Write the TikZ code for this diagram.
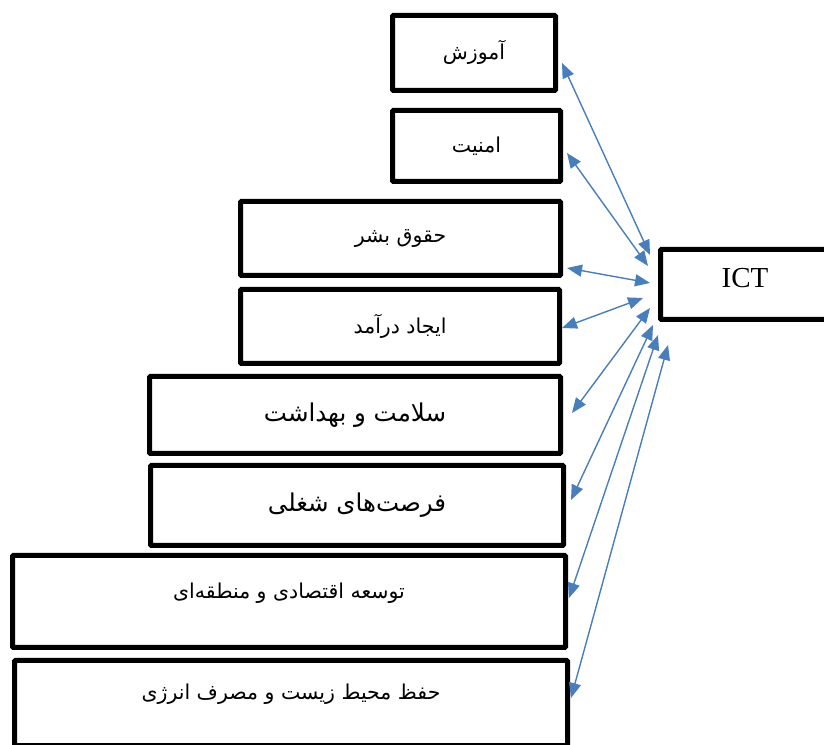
\documentclass[tikz,border=0pt]{standalone}
\usepackage{fontspec}
\setmainfont{Liberation Serif}
\newfontfamily\farsi[Script=Arabic]{DejaVu Sans}
\TeXXeTstate=1
\usetikzlibrary{arrows.meta}
\definecolor{linkblue}{RGB}{74,126,187}

\begin{document}
\begin{tikzpicture}[x=1pt,y=1pt]
\tikzstyle{box}=[rectangle,draw=black,line width=5pt,rounded corners=1pt,inner sep=0pt,font=\farsi\fontsize{20.5}{24}\selectfont]
\tikzstyle{bigbox}=[box,font=\farsi\fontsize{24.5}{28}\selectfont]
\tikzstyle{link}=[linkblue,line width=1.4pt,{Triangle[length=15pt,width=12pt]}-{Triangle[length=15pt,width=12pt]}]

\useasboundingbox (0,0) rectangle (824,744);

\begin{scope}
    % Fields
    \node [box,minimum width=163pt,minimum height=75pt,text depth=6pt](amoozesh) at (474,691){\beginR آموزش\endR};
    \node [box,minimum width=168pt,minimum height=71pt](amniat) at (476.5,598){\beginR امنیت\endR};
    \node [box,minimum width=320pt,minimum height=74pt](hoghoogh) at (400.5,505.5){\beginR حقوق بشر\endR};
    \node [box,minimum width=319pt,minimum height=74pt](daramad) at (400,417.5){\beginR ایجاد درآمد\endR};
    \node [bigbox,minimum width=411pt,minimum height=77pt](salamat) at (355,329){\beginR سلامت و بهداشت\endR};
    \node [bigbox,minimum width=413pt,minimum height=80pt](forsat) at (357,238.5){\beginR فرصت‌های شغلی\endR};
    \node [box,minimum width=553pt,minimum height=92pt,text depth=22pt](tosee) at (289,142.5){\beginR توسعه اقتصادی و منطقه‌ای\endR};
    \node [box,minimum width=553pt,minimum height=85pt,text depth=22pt](mohit) at (291,41){\beginR حفظ محیط زیست و مصرف انرژی\endR};

    % ICT
    \node [box,font=\fontsize{29}{32}\selectfont,minimum width=169pt,minimum height=70pt,text depth=14pt](ict) at (745,459.5){ICT};

    %Links
       \draw[link] ([shift={(4,-10)}]amoozesh.east) -- ([shift={(-8,29.5)}]ict.west);
       \draw[link] ([shift={(4,-7)}]amniat.east) -- ([shift={(-10,18.5)}]ict.west);
       \draw[link] ([shift={(4,-29.5)}]hoghoogh.east) -- ([shift={(-8,1.5)}]ict.west);
       \draw[link] ([shift={(0,-1.5)}]daramad.east) -- ([shift={(-15,-13.5)}]ict.west);
       \draw[link] ([shift={(9,2)}]salamat.east) -- ([shift={(-8,-23.5)}]ict.west);
       \draw[link] ([shift={(5,5.5)}]forsat.east) -- ([shift={(-5,-40.5)}]ict.west);
       \draw[link] ([shift={(1,3.5)}]tosee.east) -- ([shift={(0,-50.5)}]ict.west);
       \draw[link] ([shift={(1,5)}]mohit.east) -- ([shift={(10,-60.5)}]ict.west);
\end{scope}

\end{tikzpicture}
\end{document}
